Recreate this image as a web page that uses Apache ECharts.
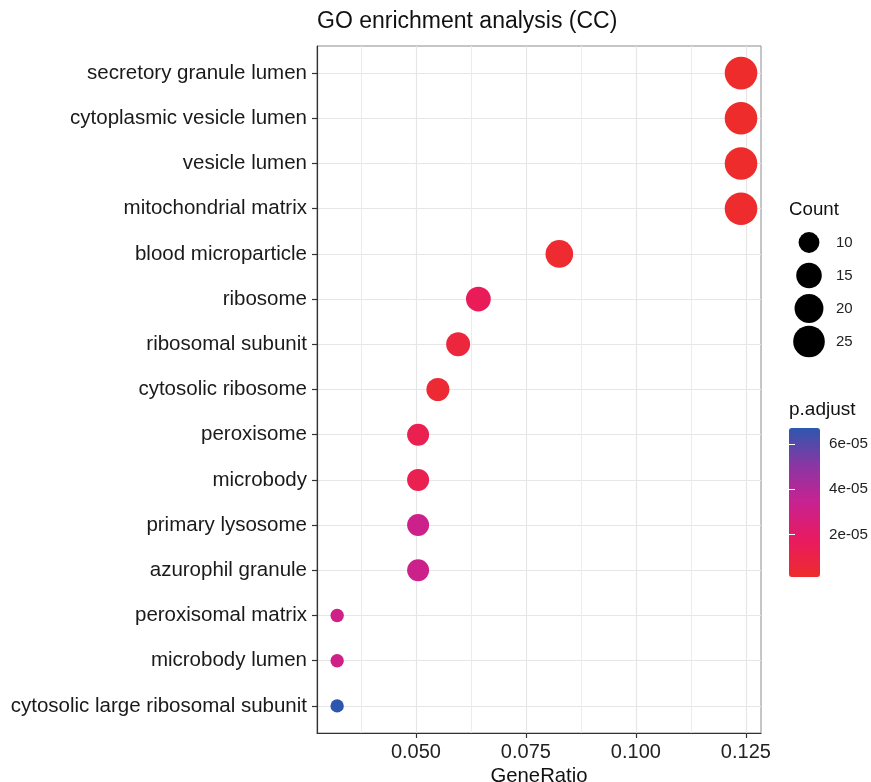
<!DOCTYPE html>
<html>
<head>
<meta charset="utf-8">
<script src="https://cdn.jsdelivr.net/npm/echarts@6/dist/echarts.min.js"></script>
<style>html,body{margin:0;padding:0;background:#fff}#c{width:871px;height:782px}</style>
</head>
<body>
<div id="c"></div>
<script>
// ---- data ----
const categories = [
  'secretory granule lumen','cytoplasmic vesicle lumen','vesicle lumen','mitochondrial matrix',
  'blood microparticle','ribosome','ribosomal subunit','cytosolic ribosome','peroxisome','microbody',
  'primary lysosome','azurophil granule','peroxisomal matrix','microbody lumen','cytosolic large ribosomal subunit'
];
const geneRatio = [0.1239,0.1239,0.1239,0.1239,0.0826,0.0642,0.0596,0.0550,0.0505,0.0505,0.0505,0.0505,0.0321,0.0321,0.0321];
const counts    = [27,27,27,27,18,14,13,12,11,11,11,11,7,7,7];
const pAdjust   = [1.2e-6,1.2e-6,1.3e-6,1.6e-6,2.5e-6,1.55e-5,6.5e-6,3.8e-6,1.25e-5,1.25e-5,3.2e-5,3.2e-5,3.1e-5,3.1e-5,6.7e-5];
const xTicks = [0.050,0.075,0.100,0.125];
const xMinorTicks = [0.0375,0.0625,0.0875,0.1125];
const sizeLegendValues = [10,15,20,25];
const colorTicks = [2e-5,4e-5,6e-5];
const colorTickLabels = ['2e-05','4e-05','6e-05'];
const pMin = 1.2e-6, pMax = 6.7e-5;
const xMin = 0.02752, xMax = 0.12844;

// ---- styling helpers ----
const FONT = 'Liberation Sans, Arial, Helvetica, sans-serif';
const cMin = 7, cMax = 27;
function sizeOf(c){ return 2*(6.7 + Math.sqrt((c-cMin)/(cMax-cMin))*9.6); }

const mainData = categories.map((c,i)=>[geneRatio[i], i, counts[i], pAdjust[i]]);
const legendData = sizeLegendValues.map(v=>[0, String(v), v]);

const chart = echarts.init(document.getElementById('c'), null, {renderer:'canvas'});
chart.setOption({
  backgroundColor:'#fff',
  animation:false,
  textStyle:{fontFamily:FONT},
  title:[
    {text:'GO enrichment analysis (CC)', left:317, top:10, padding:0,
     textStyle:{fontSize:23, fontWeight:'normal', color:'#111', fontFamily:FONT}},
    {text:'Count', left:789, top:200, padding:0,
     textStyle:{fontSize:18.7, fontWeight:'normal', color:'#111', fontFamily:FONT}},
    {text:'p.adjust', left:789, top:400, padding:0,
     textStyle:{fontSize:19, fontWeight:'normal', color:'#111', fontFamily:FONT}}
  ],
  grid:[
    {left:317, right:110, top:46, bottom:49, show:true, borderColor:'#8c8c8c', borderWidth:1,
     backgroundColor:'#fff', outerBoundsMode:'none', containLabel:false},
    {left:790, width:38, top:226, height:132, outerBoundsMode:'none', containLabel:false},
    {left:789, width:31, top:428, height:149, outerBoundsMode:'none', containLabel:false}
  ],
  xAxis:[
    {type:'value', gridIndex:0, min:xMin, max:xMax, position:'bottom',
     axisLine:{show:true, onZero:false, lineStyle:{color:'#333', width:1.2}},
     axisTick:{show:true, length:5, customValues:xTicks, lineStyle:{color:'#333', width:1.2}},
     axisLabel:{customValues:xTicks, fontSize:20, color:'#222', margin:9,
       formatter:v=>v.toFixed(3)},
     splitLine:{show:true, lineStyle:{color:'#e6e6e6', width:1.2}},
     name:'GeneRatio', nameLocation:'middle', nameGap:29,
     nameTextStyle:{fontSize:20.3, color:'#111'}},
    {type:'value', gridIndex:0, min:xMin, max:xMax, position:'top',
     axisLine:{show:false, onZero:false}, axisLabel:{show:false},
     axisTick:{show:false, customValues:xMinorTicks},
     splitLine:{show:true, lineStyle:{color:'#ececec', width:1}}},
    {type:'value', gridIndex:1, min:-1, max:1, show:false},
    {type:'value', gridIndex:2, min:0, max:1, show:false}
  ],
  yAxis:[
    {type:'value', gridIndex:0, min:-0.6, max:14.6, inverse:true,
     axisLine:{show:true, onZero:false, lineStyle:{color:'#333', width:1.2}},
     axisTick:{show:true, length:5, customValues:categories.map((c,i)=>i), lineStyle:{color:'#333', width:1.2}},
     axisLabel:{customValues:categories.map((c,i)=>i), fontSize:20.5, color:'#1a1a1a', margin:10,
       formatter:v=>categories[Math.round(v)]},
     splitLine:{show:true, lineStyle:{color:'#e6e6e6', width:1.2}}},
    {type:'category', gridIndex:1, data:sizeLegendValues.map(String), inverse:true, position:'right',
     axisLine:{show:false}, axisTick:{show:false}, splitLine:{show:false},
     axisLabel:{fontSize:15, color:'#222', margin:8}},
    {type:'value', gridIndex:2, min:pMin, max:pMax, position:'right', z:10,
     axisLine:{show:false}, splitLine:{show:false},
     axisTick:{show:true, inside:true, length:6, customValues:colorTicks, lineStyle:{color:'#fff', width:1}},
     axisLabel:{customValues:colorTicks, fontSize:15.2, color:'#222', margin:9,
       formatter:v=>{const i=colorTicks.findIndex(t=>Math.abs(t-v)<1e-9); return i>=0?colorTickLabels[i]:'';}}},
    {type:'value', gridIndex:2, min:pMin, max:pMax, position:'left', z:10,
     axisLine:{show:false}, splitLine:{show:false}, axisLabel:{show:false},
     axisTick:{show:true, inside:true, length:6, customValues:colorTicks, lineStyle:{color:'#fff', width:1}}}
  ],
  visualMap:[{
    type:'continuous', seriesIndex:0, dimension:3, min:pMin, max:pMax,
    left:789, top:428, itemWidth:31, itemHeight:149, padding:0,
    calculable:false, realtime:false, text:null, orient:'vertical',
    inRange:{color:['#EE2C2C','#E81A60','#C82290','#8A36A4','#2D57AE']},
    z:2
  }],
  series:[
    {type:'scatter', xAxisIndex:0, yAxisIndex:0, data:mainData,
     encode:{x:0, y:1}, symbol:'circle', symbolSize:d=>sizeOf(d[2]),
     itemStyle:{opacity:1}, z:5},
    {type:'scatter', xAxisIndex:2, yAxisIndex:1, data:legendData,
     encode:{x:0, y:1}, symbol:'circle', symbolSize:d=>sizeOf(d[2]),
     itemStyle:{color:'#000', opacity:1}}
  ]
});
</script>
</body>
</html>
